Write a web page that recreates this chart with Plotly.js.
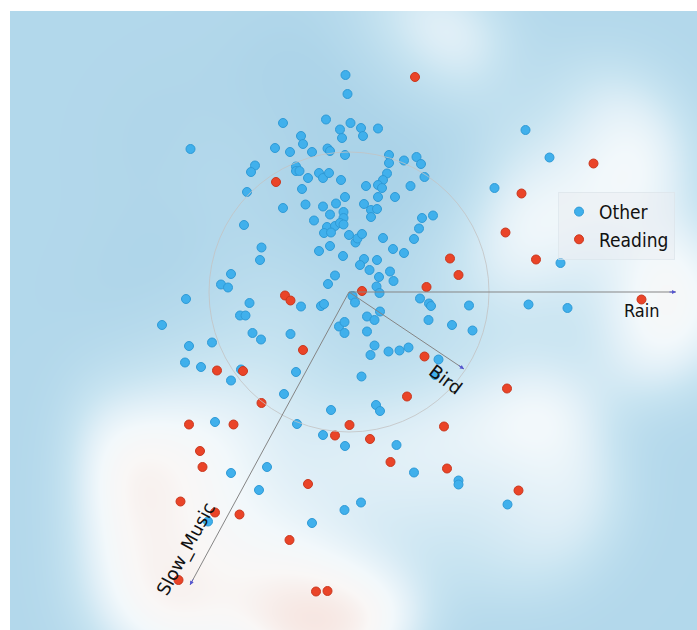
<!DOCTYPE html>
<html>
<head>
<meta charset="utf-8">
<script src="https://cdn.plot.ly/plotly-3.0.1.min.js"></script>
<style>html,body{margin:0;padding:0;background:#fff;}#chart{width:697px;height:630px;}</style>
</head>
<body>
<div id="chart"></div>
<script>
// Biplot scores (scaled units)
const otherX = [-3.5,-1.5,-66,-23,1.5,12,14,29,-9,-7,-48,-46,-74,-59,-37,-21.5,-19,-4,40,40,55,67.5,72,75.5,38,34,29,33,17,61.5,46,29,15,22,28,22,73,84,70,65,55,44,34,15,11,28,20.5,41,30,44.5,27.5,30.5,3.5,6,-94,-98,-53,-53,-49.5,-41,-30,-26,-20,-8,-102,-47,-4,-66,-43.5,-26,-13,-19,-5.5,-5.5,-35,-22,-14,-9,-5.5,-25,-18,0,6.5,8.5,13,-30,-19,-6,-105,-87.5,-89,-118,-128,-121,-14,-21,-163,-99.5,-48,-28,-25,-109,-103.5,-187,-10,-4.5,-4.5,-96.5,-88,-58.5,-160,-137,-164,-148,-108,-53,-118,-65,-18,-134,-52,-26,-4,-118,-82,-90,-4.5,12,-37,-141,27,31,47.5,65,109.5,109.5,158.5,12.5,25.5,21.5,39.5,50.5,59.5,89.5,18,18,25.5,31,79.5,103,123.5,71,80,82,120,179.5,218.5,211.5,145.5,176.5,200.5,-158.5,86];
const otherY = [217,198,169,172.5,169,164,156,163.5,162.5,154,156,148,144,140,140,143.5,141,137,137,129,131.5,135,128,115,118.5,112,107,104,106,106,95,95,88,82,83,75,74,76.5,63.5,53,39,43,54,33,27,32,22,20.5,15,11,5.5,-1,-4,-10.5,126.5,120,125.5,121,121,114,119,114,119,112,100,103,95,84,87.5,85.5,88.5,77.5,80,74,71.5,65,66,69,67.5,59,59.5,57,49.5,53.5,58,41,46,36,67,44.5,32,18,7.5,4.5,16.5,8,-7,-11,-14.5,-14,-12,-23.5,-23.5,-33,-34.5,-30,-41,-41,-47.5,-42,-54,-50.5,-70.5,-75,-77.5,-80,-88.5,-102,-118,-130,-132,-143,-154,-181,-175,-198,-218,-210.5,-231,-229.5,-113,-119,-153,-180.5,-188.5,-192.5,-212.5,-84.5,-53.5,-63,-59.5,-58.5,-55.5,-67.5,-39.5,-24.5,-28,-19.5,-28,-33,-38.5,-6.5,-11.5,-14,-13.5,-12.5,-16,29,104,162,134.5,143,-83];
const readX = [66,244.5,172.5,156.5,187,101,109.5,77.5,13,-73,-64,-58.5,-46,-132,-106,292.5,75.5,158,58,-87.5,-160,-115.5,0.5,-14,95,21,-149,-146.5,41.5,98,-41,169.5,-168.5,-109.5,-134,-59.5,-170.5,-33,-21.5];
const readY = [215,128.5,98.5,59.5,32.5,33.5,17,5,1,110,-3.5,-8.5,-58,-78.5,-79,-7.5,-64.5,-96.5,-104.5,-111,-132.5,-132.5,-133,-143.5,-134.5,-147,-159,-175,-170,-176.5,-192,-198.5,-209.5,-222.5,-220.5,-248,-288,-299.5,-299];
// Loadings (arrow tips) and names
const varNames = ['Rain','Bird','Slow_Music'];
const loadX = [327, 115, -159];
const loadY = [0, -77, -293];
const circleR = 140;
const seriesNames = ['Other','Reading'];

const XR = [-339, 348], YR = [-338, 281];

// density background derived from the points
const bw = 48, c0 = 0.6;
const gx = [], gy = [];
for (let x = -346; x <= 356; x += 6) gx.push(x);
for (let y = -346; y <= 288; y += 6) gy.push(y);
function k(dx, dy){ return Math.exp(-(dx*dx+dy*dy)/(2*bw*bw)); }
const z = gy.map(y => gx.map(x => {
  let dr = 0, db = 0;
  for (let i = 0; i < readX.length; i++) dr += k(x-readX[i], y-readY[i]);
  for (let i = 0; i < otherX.length; i++) db += k(x-otherX[i], y-otherY[i]);
  return dr/(dr+db+c0) - 0.06*db/(db+1.5);
}));

const traces = [
  {type:'heatmap', x:gx, y:gy, z:z, zmin:-0.06, zmax:1, zsmooth:'best', showscale:false, hoverinfo:'skip',
   colorscale:[[0,'#a8d1e7'],[0.06,'#b3d8eb'],[0.22,'#c8e4f1'],[0.36,'#e0eff7'],[0.48,'#f2f8fb'],[0.6,'#f9f7f6'],[0.72,'#f6e4df'],[1,'#f0cdc3']]},
  {type:'scatter', mode:'markers', name:seriesNames[0], x:otherX, y:otherY, hoverinfo:'skip',
   marker:{size:9, color:'#40b0ec', line:{color:'#2f9ad6', width:1}}},
  {type:'scatter', mode:'markers', name:seriesNames[1], x:readX, y:readY, hoverinfo:'skip',
   marker:{size:9, color:'#ea4428', line:{color:'#c9381f', width:1}}}
];

const shapes = [{type:'circle', xref:'x', yref:'y', x0:-circleR, x1:circleR, y0:-circleR, y1:circleR,
  line:{color:'rgba(195,195,195,0.8)', width:1}, layer:'above'}];
const annotations = [];
const labelShift = [[-34,-18,0],[-18,-10,37],[-4,36,-61.5]];
const labelFont = ['DejaVu Sans Condensed, sans-serif','DejaVu Sans, sans-serif','DejaVu Sans, sans-serif'];
for (let i = 0; i < varNames.length; i++) {
  shapes.push({type:'line', xref:'x', yref:'y', x0:0, y0:0, x1:loadX[i], y1:loadY[i],
    line:{color:'#858585', width:1}, layer:'above'});
  const L = Math.hypot(loadX[i], loadY[i]);
  const ux = loadX[i]/L, uy = loadY[i]/L;
  annotations.push({x:loadX[i], y:loadY[i], xref:'x', yref:'y', text:'', showarrow:true,
    ax:-ux*8, ay:uy*8, arrowhead:2, arrowsize:0.8, arrowwidth:1, arrowcolor:'#5656d0'});
  annotations.push({x:loadX[i], y:loadY[i], xref:'x', yref:'y', text:varNames[i], showarrow:false,
    xshift:labelShift[i][0], yshift:labelShift[i][1], textangle:labelShift[i][2],
    font:{size:18, color:'#111', family:labelFont[i]}});
}

const layout = {
  width:697, height:630,
  margin:{l:10, r:0, t:11, b:0},
  paper_bgcolor:'#ffffff', plot_bgcolor:'#b3d8eb',
  xaxis:{range:XR, visible:false, showgrid:false, zeroline:false, fixedrange:true},
  yaxis:{range:YR, visible:false, showgrid:false, zeroline:false, fixedrange:true},
  showlegend:true,
  legend:{x:0.7977, y:0.708, xanchor:'left', yanchor:'top', bgcolor:'rgba(232,236,240,0.45)',
    bordercolor:'rgba(220,228,234,0.7)', borderwidth:1,
    font:{size:19, color:'#111', family:'DejaVu Sans Condensed, sans-serif'}},
  shapes:shapes, annotations:annotations, hovermode:false
};
Plotly.newPlot('chart', traces, layout, {displayModeBar:false, staticPlot:true});
</script>
</body>
</html>
